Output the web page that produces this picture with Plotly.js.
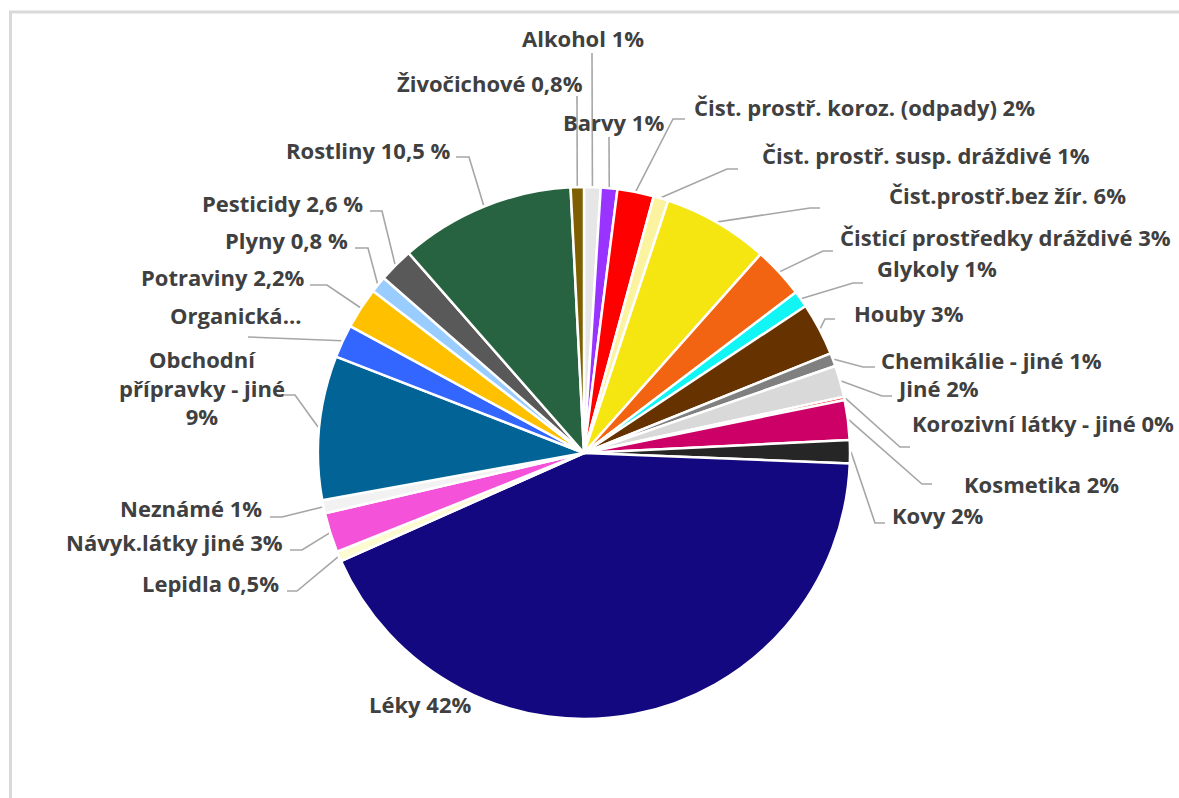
<!DOCTYPE html>
<html>
<head>
<meta charset="utf-8">
<script src="https://cdn.plot.ly/plotly-3.0.1.min.js"></script>
<style>
  html, body { margin: 0; padding: 0; background: #ffffff; }
  #chart { width: 1179px; height: 798px; }
</style>
</head>
<body>
<div id="chart"></div>
<script>
// ---- data ----
const categories = [
  "Alkohol", "Barvy", "Čist. prostř. koroz. (odpady)", "Čist. prostř. susp. dráždivé",
  "Čist.prostř.bez žír.", "Čisticí prostředky dráždivé", "Glykoly", "Houby",
  "Chemikálie - jiné", "Jiné", "Korozivní látky - jiné", "Kosmetika", "Kovy",
  "Léky", "Lepidla", "Návyk.látky jiné", "Neznámé", "Obchodní přípravky - jiné",
  "Organická...", "Potraviny", "Plyny", "Pesticidy", "Rostliny", "Živočichové"
];
const values = [
  1.0, 1.0, 2.2, 0.9,
  6.4, 3.1, 1.0, 3.2,
  0.8, 1.9, 0.2, 2.4, 1.4,
  42.5, 0.6, 2.4, 0.8, 8.7,
  2.0, 2.5, 1.0, 2.1, 10.6, 0.8
];
const labelTexts = [
  "Alkohol 1%", "Barvy 1%", "Čist. prostř. koroz. (odpady) 2%", "Čist. prostř. susp. dráždivé 1%",
  "Čist.prostř.bez žír. 6%", "Čisticí prostředky dráždivé 3%", "Glykoly 1%", "Houby 3%",
  "Chemikálie - jiné 1%", "Jiné 2%", "Korozivní látky - jiné 0%", "Kosmetika 2%", "Kovy 2%",
  "Léky 42%", "Lepidla 0,5%", "Návyk.látky jiné 3%", "Neznámé 1%", "Obchodní<br>přípravky - jiné<br>9%",
  "Organická...", "Potraviny 2,2%", "Plyny 0,8 %", "Pesticidy 2,6 %", "Rostliny 10,5 %", "Živočichové 0,8%"
];
const colors = [
  "#e6e6e6", "#9933ff", "#ff0000", "#fbf3a0",
  "#f5e511", "#f26411", "#11f5f5", "#663300",
  "#808080", "#d9d9d9", "#ff0000", "#cc0066", "#262626",
  "#130880", "#fdfbd0", "#f352d9", "#f2f2f2", "#026496",
  "#3366ff", "#ffc000", "#99ccff", "#595959", "#286341", "#7f6000"
];

// ---- layout geometry (pixels) ----
const W = 1179, H = 798;
const CX = 584, CY = 453, R = 266;
// label anchor: [x, y, xanchor]
const labelPos = [
  [583, 38, "center"], [613, 122, "center"], [692, 107, "left"], [760, 155, "left"],
  [887, 195, "left"], [1173, 237, "right"], [875, 268, "left"], [852, 313, "left"],
  [879, 360, "left"], [895, 388, "left"], [1176, 423, "right"], [962, 484, "left"], [890, 515, "left"],
  [367, 704, "left"], [281, 583, "right"], [285, 542, "right"], [264, 508, "right"], [202, 387, "center"],
  [235, 315, "center"], [307, 277, "right"], [350, 240, "right"], [365, 203, "right"], [452, 150, "right"], [585, 83, "right"]
];
// leader: [elbowX, elbowY, endX or null] ; null = no leader
const leaders = [
  [592, 53, null], [609, 137, null], [673, 119, 685], [727, 169, 738],
  [810, 208, 820], [823, 251, 833], [853, 283, 863], [825, 319, 835],
  [863, 367, 875], [882, 396, 892], [900, 447, 910], [922, 484, 932], [875, 523, 885],
  null, [297, 591, 287], [302, 550, 290], [282, 517, 270], [295, 395, 282],
  [248, 337, null], [327, 285, 310], [368, 248, 355], [382, 211, 370], [469, 157, 456], [577, 96, null]
];

// compute leader lines from slice mid-angles
const total = values.reduce((a, b) => a + b, 0);
const lx = [], ly = [];
let cum = 0;
values.forEach((v, i) => {
  const th = 2 * Math.PI * (cum + v / 2) / total;
  cum += v;
  const L = leaders[i];
  if (!L) return;
  const px = CX + (R + 1) * Math.sin(th);
  const py = CY - (R + 1) * Math.cos(th);
  lx.push(px, L[0]); ly.push(py, L[1]);
  if (L[2] !== null) { lx.push(L[2]); ly.push(L[1]); }
  lx.push(null); ly.push(null);
});

const pie = {
  type: "pie",
  labels: categories,
  values: values,
  sort: false,
  direction: "clockwise",
  rotation: 0,
  textinfo: "none",
  hoverinfo: "label+percent",
  marker: { colors: colors, line: { color: "#ffffff", width: 2.5 } },
  domain: { x: [(CX - R) / W, (CX + R) / W], y: [1 - (CY + R) / H, 1 - (CY - R) / H] },
  showlegend: false
};
const lines = {
  type: "scatter", mode: "lines", x: lx, y: ly,
  line: { color: "#a6a6a6", width: 1.6 },
  hoverinfo: "skip", showlegend: false, xaxis: "x", yaxis: "y"
};

const annotations = labelTexts.map((t, i) => ({
  text: t, x: labelPos[i][0], y: labelPos[i][1], xref: "x", yref: "y",
  xanchor: labelPos[i][2], yanchor: "middle", align: "center", showarrow: false,
  font: { family: "Open Sans, sans-serif", size: 22, color: "#404040", weight: "bold" }
}));

const layout = {
  width: W, height: H,
  margin: { l: 0, r: 0, t: 0, b: 0 },
  paper_bgcolor: "#ffffff", plot_bgcolor: "rgba(0,0,0,0)",
  xaxis: { range: [0, W], visible: false, fixedrange: true },
  yaxis: { range: [H, 0], visible: false, fixedrange: true },
  showlegend: false,
  annotations: annotations,
  shapes: [
    { type: "line", xref: "x", yref: "y", x0: 10.5, y0: H, x1: 10.5, y1: 12, line: { color: "#d9d9d9", width: 3 } },
    { type: "line", xref: "x", yref: "y", x0: 9, y0: 12, x1: W, y1: 12, line: { color: "#d9d9d9", width: 3 } }
  ]
};

Plotly.newPlot("chart", [pie, lines], layout, { staticPlot: true, displayModeBar: false });
</script>
</body>
</html>
